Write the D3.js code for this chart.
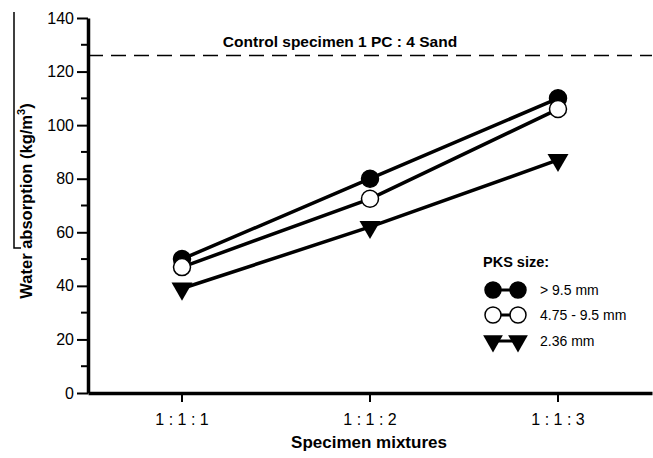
<!DOCTYPE html>
<html><head><meta charset="utf-8">
<script src="https://cdn.jsdelivr.net/npm/d3@7"></script>
<style>body{margin:0;background:#fff}svg{display:block}text{font-family:"Liberation Sans",Arial,sans-serif;fill:#000}</style>
</head><body><svg id="c" width="653" height="458"></svg>
<script>
const categories = ["1 : 1 : 1", "1 : 1 : 2", "1 : 1 : 3"];
const seriesNames = ["> 9.5 mm", "4.75 - 9.5 mm", "2.36 mm"];
const large = [50, 80, 110];
const medium = [47, 72.5, 106];
const small = [39, 62, 87];
const controlValue = 126;
const controlLabel = "Control specimen 1 PC : 4 Sand";
const yTicks = [0, 20, 40, 60, 80, 100, 120, 140];
const yMinorTicks = [10, 30, 50, 70, 90, 110, 130];
const xTitle = "Specimen mixtures";
const legendTitle = "PKS size:";

const svg = d3.select("#c");
const mLeft = 88, mRight = 652, mTop = 18, mBottom = 393;
const x = d3.scaleBand().domain(categories).range([mLeft, mRight]);
const y = d3.scaleLinear().domain([0, 140]).range([mBottom, mTop]);
const cx = c => x(c) + x.bandwidth() / 2;

// scan artifact at left edge
svg.append("path").attr("d", "M14,12V248H21").attr("stroke", "#000").attr("stroke-width", 1.5).attr("fill", "none");

// control dashed line
svg.append("line").attr("x1", mLeft).attr("x2", mRight).attr("y1", y(controlValue)).attr("y2", y(controlValue))
  .attr("stroke", "#000").attr("stroke-width", 1.6).attr("stroke-dasharray", "15,8");
svg.append("text").attr("x", 340).attr("y", 47).attr("text-anchor", "middle")
  .style("font-size", "15.5px").style("font-weight", "bold").text(controlLabel);

// y axis
const yAxis = svg.append("g").attr("transform", `translate(${mLeft},0)`)
  .call(d3.axisLeft(y).tickValues(yTicks).tickSize(11).tickSizeOuter(0).tickPadding(3));
yAxis.selectAll(".tick text").style("font-size", "16px").attr("font-family", null);
yAxis.append("g").selectAll("line").data(yMinorTicks).join("line")
  .attr("x1", -7).attr("x2", 0).attr("y1", d => y(d)).attr("y2", d => y(d)).attr("stroke", "#000").attr("stroke-width", 2);
yAxis.selectAll(".tick line").attr("stroke-width", 2);
yAxis.select(".domain").attr("stroke-width", 3.5);

// x axis
const xAxis = svg.append("g").attr("transform", `translate(0,${mBottom})`)
  .call(d3.axisBottom(x).tickSize(9).tickSizeOuter(0).tickPadding(12));
xAxis.selectAll(".tick text").style("font-size", "16px").attr("font-family", null);
xAxis.selectAll(".tick line").attr("stroke-width", 2);
xAxis.select(".domain").attr("stroke-width", 3.5);

svg.append("text").attr("x", 369).attr("y", 448).attr("text-anchor", "middle")
  .style("font-size", "17px").style("font-weight", "bold").text(xTitle);
const yt = svg.append("text").attr("transform", "translate(32,201) rotate(-90)").attr("text-anchor", "middle")
  .style("font-size", "16.5px").style("font-weight", "bold");
yt.append("tspan").text("Water absorption (kg/m");
yt.append("tspan").attr("dy", -7).style("font-size", "11px").text("3");
yt.append("tspan").attr("dy", 7).text(")");

// series
const series = [
  {name: seriesNames[0], values: large, type: "filled"},
  {name: seriesNames[1], values: medium, type: "open"},
  {name: seriesNames[2], values: small, type: "tri"}
];
const line = d3.line().x((d, i) => cx(categories[i])).y(d => y(d));
const triPath = d3.symbol().type(d3.symbolTriangle).size(190)();
function marker(g, type, px, py, r) {
  if (type === "tri") {
    g.append("path").attr("d", triPath).attr("transform", `translate(${px},${py}) rotate(180) scale(${r / 8.5})`).attr("fill", "#000");
  } else {
    g.append("circle").attr("cx", px).attr("cy", py).attr("r", r)
      .attr("fill", type === "filled" ? "#000" : "#fff").attr("stroke", "#000").attr("stroke-width", 1.5);
  }
}
const sg = svg.append("g");
series.forEach(s => {
  sg.append("path").datum(s.values).attr("d", line).attr("fill", "none").attr("stroke", "#000").attr("stroke-width", 3.5);
});
series.forEach(s => {
  s.values.forEach((v, i) => marker(sg, s.type, cx(categories[i]), y(v), 8.5));
});

// legend
const lg = svg.append("g");
lg.append("text").attr("x", 483).attr("y", 267).style("font-size", "14.5px").style("font-weight", "bold").text(legendTitle);
const rows = [290, 315, 341];
series.forEach((s, i) => {
  const ry = rows[i];
  lg.append("line").attr("x1", 493).attr("x2", 518).attr("y1", ry).attr("y2", ry).attr("stroke", "#000").attr("stroke-width", 3);
  marker(lg, s.type, 493, ry, 8);
  marker(lg, s.type, 518, ry, 8);
  lg.append("text").attr("x", 540).attr("y", ry + 5).style("font-size", "14px").style("font-weight", "500").text(s.name);
});
</script></body></html>
